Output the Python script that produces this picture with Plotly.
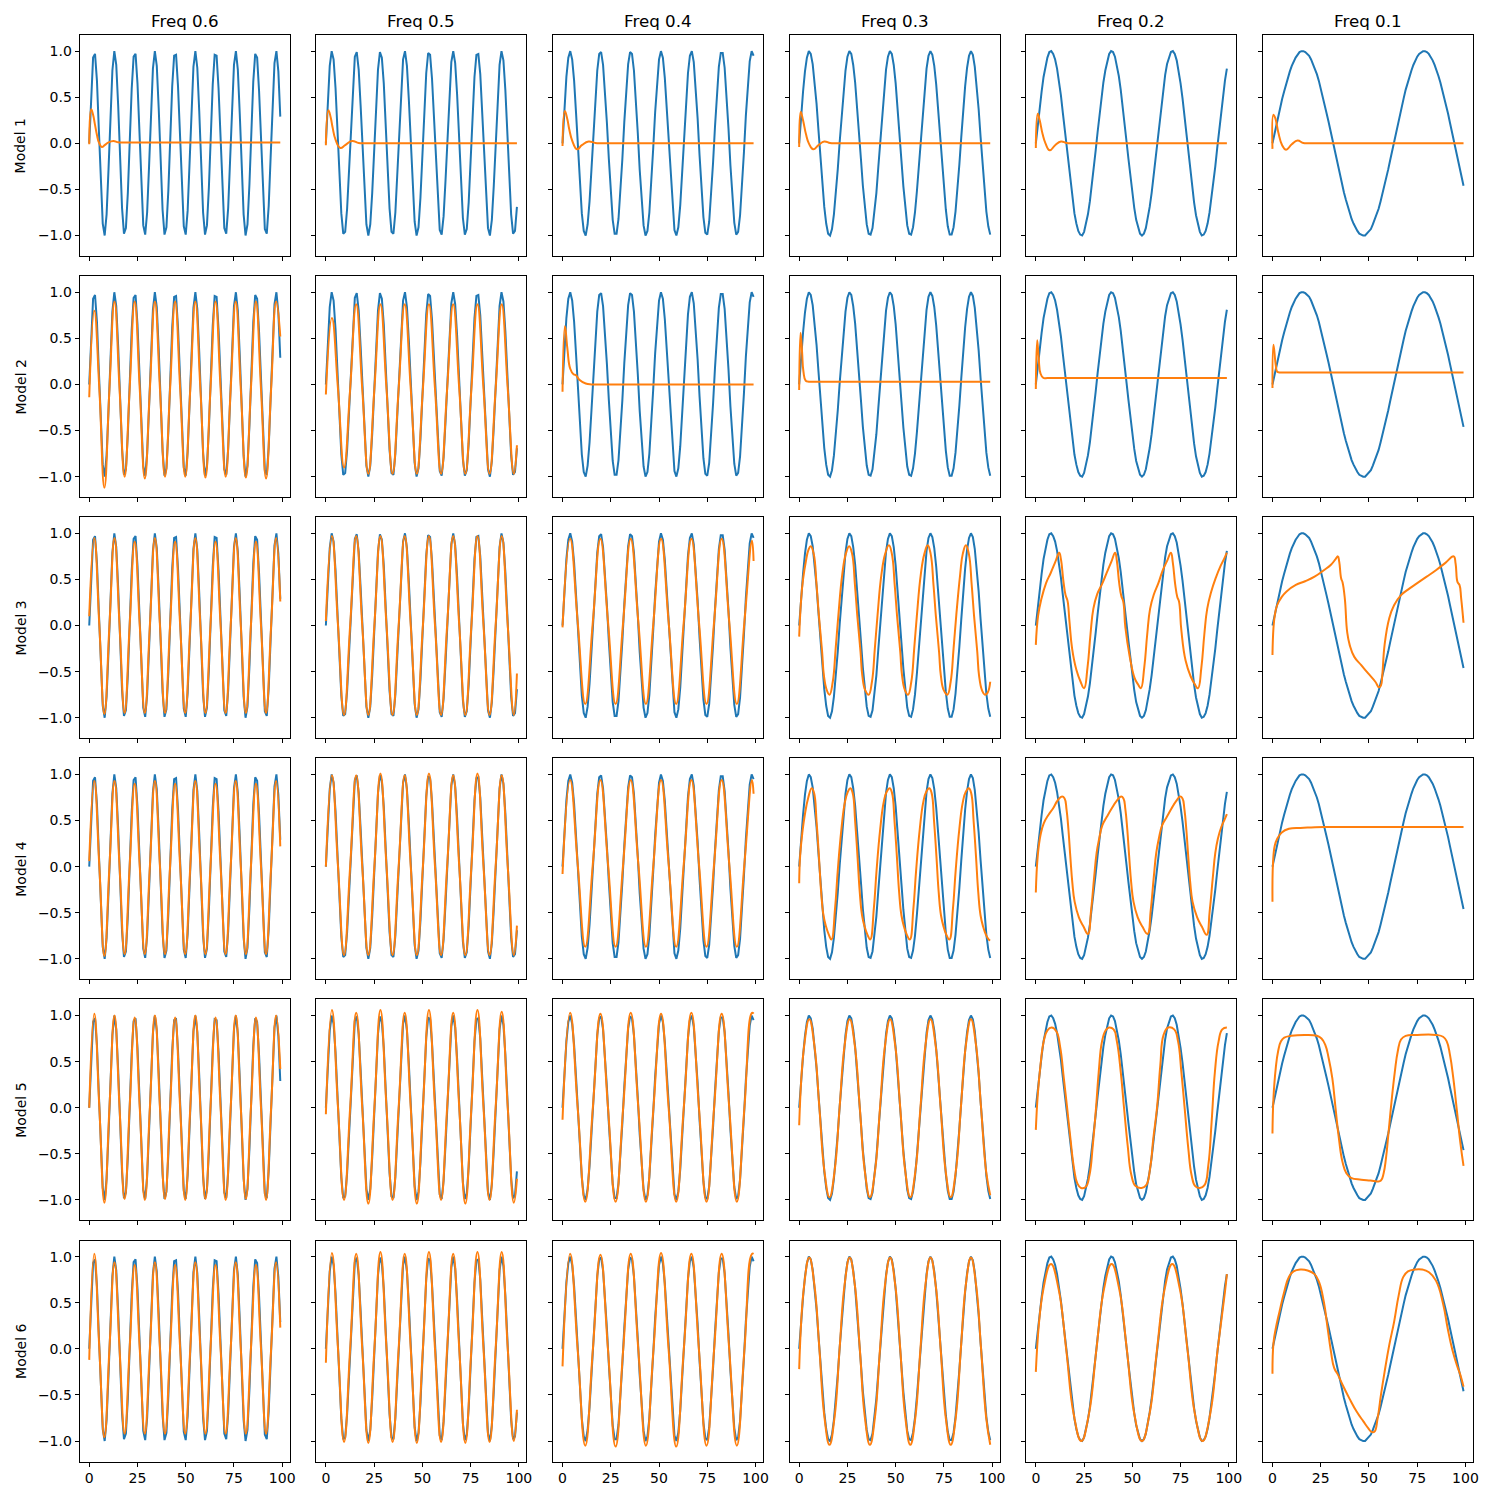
import plotly.graph_objects as go

# ---------------- data ----------------
FREQ_LABELS = ["Freq 0.6", "Freq 0.5", "Freq 0.4", "Freq 0.3", "Freq 0.2", "Freq 0.1"]
MODEL_LABELS = ["Model 1", "Model 2", "Model 3", "Model 4", "Model 5", "Model 6"]
X_TICKS = [0, 25, 50, 75, 100]
Y_TICKS = [-1.0, -0.5, 0.0, 0.5, 1.0]
Y_TICK_TEXT = ["\u22121.0", "\u22120.5", "0.0", "0.5", "1.0"]

T = list(range(100))

# input signals (blue), one per frequency column
SIN_06 = [0.00, 0.56, 0.93, 0.97, 0.68, 0.14, -0.44, -0.87, -1.00, -0.77,
          -0.28, 0.31, 0.79, 1.00, 0.85, 0.41, -0.17, -0.70, -0.98, -0.92,
          -0.54, 0.03, 0.59, 0.94, 0.97, 0.65, 0.11, -0.47, -0.89, -0.99,
          -0.75, -0.25, 0.34, 0.81, 1.00, 0.84, 0.38, -0.21, -0.72, -0.99,
          -0.91, -0.51, 0.07, 0.62, 0.95, 0.96, 0.62, 0.07, -0.50, -0.90,
          -0.99, -0.73, -0.21, 0.37, 0.83, 1.00, 0.82, 0.35, -0.24, -0.75,
          -0.99, -0.89, -0.48, 0.10, 0.64, 0.96, 0.95, 0.60, 0.04, -0.53,
          -0.92, -0.98, -0.70, -0.18, 0.41, 0.85, 1.00, 0.80, 0.32, -0.27,
          -0.77, -1.00, -0.88, -0.45, 0.13, 0.67, 0.97, 0.93, 0.57, 0.01,
          -0.56, -0.93, -0.98, -0.68, -0.15, 0.44, 0.87, 1.00, 0.78, 0.29]
SIN_05 = [0.00, 0.48, 0.84, 1.00, 0.91, 0.60, 0.14, -0.35, -0.76, -0.98,
          -0.96, -0.71, -0.28, 0.22, 0.66, 0.94, 0.99, 0.80, 0.41, -0.08,
          -0.54, -0.88, -1.00, -0.88, -0.54, -0.07, 0.42, 0.80, 0.99, 0.93,
          0.65, 0.21, -0.29, -0.71, -0.96, -0.98, -0.75, -0.34, 0.15, 0.61,
          0.91, 1.00, 0.84, 0.47, -0.01, -0.49, -0.85, -1.00, -0.91, -0.59,
          -0.13, 0.36, 0.76, 0.98, 0.96, 0.70, 0.27, -0.22, -0.66, -0.94,
          -0.99, -0.79, -0.40, 0.08, 0.55, 0.88, 1.00, 0.87, 0.53, 0.06,
          -0.43, -0.81, -0.99, -0.93, -0.64, -0.20, 0.30, 0.72, 0.96, 0.97,
          0.75, 0.33, -0.16, -0.61, -0.92, -1.00, -0.83, -0.46, 0.02, 0.49,
          0.85, 1.00, 0.90, 0.58, 0.12, -0.37, -0.77, -0.98, -0.95, -0.69]
SIN_04 = [0.00, 0.39, 0.72, 0.93, 1.00, 0.91, 0.68, 0.33, -0.06, -0.44,
          -0.76, -0.95, -1.00, -0.88, -0.63, -0.28, 0.12, 0.49, 0.79, 0.97,
          0.99, 0.85, 0.58, 0.22, -0.17, -0.54, -0.83, -0.98, -0.98, -0.82,
          -0.54, -0.17, 0.23, 0.59, 0.86, 0.99, 0.97, 0.79, 0.49, 0.11,
          -0.29, -0.64, -0.89, -1.00, -0.95, -0.75, -0.43, -0.05, 0.34, 0.68,
          0.91, 1.00, 0.93, 0.71, 0.38, -0.01, -0.40, -0.72, -0.94, -1.00,
          -0.91, -0.67, -0.33, 0.07, 0.45, 0.76, 0.95, 1.00, 0.88, 0.62,
          0.27, -0.13, -0.50, -0.80, -0.97, -0.99, -0.85, -0.58, -0.21, 0.18,
          0.55, 0.83, 0.98, 0.98, 0.82, 0.53, 0.16, -0.24, -0.60, -0.86,
          -0.99, -0.96, -0.78, -0.48, -0.10, 0.30, 0.64, 0.89, 1.00, 0.95]
SIN_03 = [0.00, 0.30, 0.56, 0.78, 0.93, 1.00, 0.97, 0.86, 0.68, 0.43,
          0.14, -0.16, -0.44, -0.69, -0.87, -0.98, -1.00, -0.93, -0.77, -0.55,
          -0.28, 0.02, 0.31, 0.58, 0.79, 0.94, 1.00, 0.97, 0.85, 0.66,
          0.41, 0.12, -0.17, -0.46, -0.70, -0.88, -0.98, -0.99, -0.92, -0.76,
          -0.54, -0.26, 0.03, 0.33, 0.59, 0.80, 0.94, 1.00, 0.97, 0.85,
          0.65, 0.40, 0.11, -0.19, -0.47, -0.71, -0.89, -0.98, -0.99, -0.91,
          -0.75, -0.52, -0.25, 0.05, 0.34, 0.61, 0.81, 0.95, 1.00, 0.96,
          0.84, 0.64, 0.38, 0.09, -0.21, -0.49, -0.72, -0.90, -0.99, -0.99,
          -0.91, -0.74, -0.51, -0.23, 0.07, 0.36, 0.62, 0.82, 0.95, 1.00,
          0.96, 0.83, 0.62, 0.37, 0.07, -0.22, -0.50, -0.74, -0.90, -0.99]
SIN_02 = [0.00, 0.20, 0.39, 0.56, 0.72, 0.84, 0.93, 0.99, 1.00, 0.97,
          0.91, 0.81, 0.68, 0.52, 0.33, 0.14, -0.06, -0.26, -0.44, -0.61,
          -0.76, -0.87, -0.95, -0.99, -1.00, -0.96, -0.88, -0.77, -0.63, -0.46,
          -0.28, -0.08, 0.12, 0.31, 0.49, 0.66, 0.79, 0.90, 0.97, 1.00,
          0.99, 0.94, 0.85, 0.73, 0.58, 0.41, 0.22, 0.02, -0.17, -0.37,
          -0.54, -0.70, -0.83, -0.92, -0.98, -1.00, -0.98, -0.92, -0.82, -0.69,
          -0.54, -0.36, -0.17, 0.03, 0.23, 0.42, 0.59, 0.74, 0.86, 0.94,
          0.99, 1.00, 0.97, 0.90, 0.79, 0.65, 0.49, 0.30, 0.11, -0.09,
          -0.29, -0.47, -0.64, -0.78, -0.89, -0.96, -1.00, -0.99, -0.95, -0.87,
          -0.75, -0.60, -0.43, -0.25, -0.05, 0.15, 0.34, 0.52, 0.68, 0.81]
SIN_01 = [0.00, 0.10, 0.20, 0.30, 0.39, 0.48, 0.56, 0.64, 0.72, 0.78,
          0.84, 0.89, 0.93, 0.96, 0.99, 1.00, 1.00, 0.99, 0.97, 0.95,
          0.91, 0.86, 0.81, 0.75, 0.68, 0.60, 0.52, 0.43, 0.33, 0.24,
          0.14, 0.04, -0.06, -0.16, -0.26, -0.35, -0.44, -0.53, -0.61, -0.69,
          -0.76, -0.82, -0.87, -0.92, -0.95, -0.98, -0.99, -1.00, -1.00, -0.98,
          -0.96, -0.93, -0.88, -0.83, -0.77, -0.71, -0.63, -0.55, -0.46, -0.37,
          -0.28, -0.18, -0.08, 0.02, 0.12, 0.22, 0.31, 0.40, 0.49, 0.58,
          0.66, 0.73, 0.79, 0.85, 0.90, 0.94, 0.97, 0.99, 1.00, 1.00,
          0.99, 0.97, 0.94, 0.90, 0.85, 0.80, 0.73, 0.66, 0.58, 0.50,
          0.41, 0.32, 0.22, 0.12, 0.02, -0.08, -0.17, -0.27, -0.37, -0.46]

# key times of the model outputs (orange)
Q06 = [0, 2.62, 5.24, 7.85, 10.47, 13.09, 15.71, 18.33, 20.94, 23.56, 26.18, 28.8,
       31.42, 34.03, 36.65, 39.27, 41.89, 44.51, 47.12, 49.74, 52.36, 54.98, 57.6,
       60.21, 62.83, 65.45, 68.07, 70.69, 73.3, 75.92, 78.54, 81.16, 83.78, 86.39,
       89.01, 91.63, 94.25, 96.87, 99]
Q05 = [0, 3.14, 6.28, 9.42, 12.57, 15.71, 18.85, 21.99, 25.13, 28.27, 31.42, 34.56,
       37.7, 40.84, 43.98, 47.12, 50.27, 53.41, 56.55, 59.69, 62.83, 65.97, 69.12,
       72.26, 75.4, 78.54, 81.68, 84.82, 87.96, 91.11, 94.25, 97.39, 99]
Q04 = [0, 3.93, 7.85, 11.78, 15.71, 19.63, 23.56, 27.49, 31.42, 35.34, 39.27, 43.2,
       47.12, 51.05, 54.98, 58.9, 62.83, 66.76, 70.69, 74.61, 78.54, 82.47, 86.39,
       90.32, 94.25, 98.17, 99]

# Model 1
M1_F06_X = [0, 1, 2, 3, 4, 5, 6.5, 8, 10, 12.5, 15, 18, 25, 40, 55, 70, 85, 99]
M1_F06_Y = [-0.01, 0.37, 0.31, 0.20, 0.09, 0.01, -0.04, -0.02, 0.01, 0.025, 0.012, 0.01, 0.01, 0.01, 0.01, 0.01, 0.01, 0.01]
M1_F05_X = [0, 1.3, 2.5, 3.5, 5, 7.5, 10, 13.5, 17, 20, 27, 40, 55, 70, 85, 99]
M1_F05_Y = [-0.02, 0.36, 0.28, 0.17, 0.04, -0.05, -0.02, 0.025, 0.003, 0.0, 0.0, 0.0, 0.0, 0.0, 0.0, 0.0]
M1_F04_X = [0, 1.2, 2.5, 3.5, 5, 7.5, 10, 13.5, 17, 20, 27, 40, 55, 70, 85, 99]
M1_F04_Y = [-0.03, 0.35, 0.26, 0.15, 0.03, -0.065, -0.02, 0.02, 0.003, 0.0, 0.0, 0.0, 0.0, 0.0, 0.0, 0.0]
M1_F03_X = [0, 0.8, 2, 3.5, 5, 7.3, 10, 13, 16, 19, 26, 40, 55, 70, 85, 99]
M1_F03_Y = [-0.04, 0.34, 0.25, 0.10, 0.0, -0.065, -0.02, 0.02, 0.003, 0.0, 0.0, 0.0, 0.0, 0.0, 0.0, 0.0]
M1_F02_X = [0, 1, 2, 3.5, 5, 7.2, 10, 13, 16, 19, 26, 40, 55, 70, 85, 99]
M1_F02_Y = [-0.05, 0.32, 0.25, 0.10, 0.0, -0.075, -0.02, 0.02, 0.003, 0.0, 0.0, 0.0, 0.0, 0.0, 0.0, 0.0]
M1_F01_X = [0, 0.5, 1.5, 3, 5, 7, 10, 13, 16, 19, 26, 40, 55, 70, 85, 99]
M1_F01_Y = [-0.06, 0.31, 0.27, 0.12, -0.02, -0.07, -0.01, 0.03, 0.003, 0.0, 0.0, 0.0, 0.0, 0.0, 0.0, 0.0]

# Model 2
M2_F06_Y = [-0.14,
            0.80, -0.05, -1.12, -0.05,
            0.90, -0.05, -1.00, -0.05,
            0.90, -0.05, -1.02, -0.05,
            0.90, -0.05, -1.00, -0.05,
            0.90, -0.05, -1.00, -0.05,
            0.90, -0.05, -1.01, -0.05,
            0.90, -0.05, -1.00, -0.05,
            0.90, -0.05, -1.01, -0.05,
            0.90, -0.05, -1.02, -0.05,
            0.90, 0.52]
M2_F05_Y = [-0.11,
            0.72, -0.05, -0.90, -0.05,
            0.87, -0.05, -0.97, -0.05,
            0.87, -0.05, -0.97, -0.05,
            0.87, -0.05, -0.97, -0.05,
            0.87, -0.05, -0.97, -0.05,
            0.87, -0.05, -0.97, -0.05,
            0.87, -0.05, -0.97, -0.05,
            0.87, -0.05, -0.97,
            -0.66]
M2_F04_X = [0, 1.25, 2.5, 4.0, 5.7, 7.0, 8.7, 12, 15, 20, 30, 45, 60, 75, 90, 99]
M2_F04_Y = [-0.08, 0.63, 0.39, 0.17, 0.11, 0.10, 0.05, 0.01, 0.0, 0.0, 0.0, 0.0, 0.0, 0.0, 0.0, 0.0]
M2_F03_X = [0, 0.7, 1.5, 2.2, 3.4, 5, 8, 15, 30, 45, 60, 75, 90, 99]
M2_F03_Y = [-0.06, 0.56, 0.35, 0.14, 0.04, 0.03, 0.03, 0.03, 0.03, 0.03, 0.03, 0.03, 0.03, 0.03]
M2_F02_X = [0, 0.7, 1.5, 2.4, 3.9, 6, 10, 20, 35, 50, 65, 80, 99]
M2_F02_Y = [-0.05, 0.48, 0.28, 0.12, 0.07, 0.07, 0.07, 0.07, 0.07, 0.07, 0.07, 0.07, 0.07]
M2_F01_X = [0, 0.5, 1.7, 2.4, 3.5, 6, 10, 20, 35, 50, 65, 80, 99]
M2_F01_Y = [-0.04, 0.43, 0.21, 0.14, 0.13, 0.13, 0.13, 0.13, 0.13, 0.13, 0.13, 0.13, 0.13]

# Model 3
M3_F06_Y = [0.10,
            0.95, 0.0, -0.96, 0.0,
            0.95, 0.0, -0.95, 0.0,
            0.91, 0.0, -0.95, 0.0,
            0.95, 0.0, -0.95, 0.0,
            0.91, 0.0, -0.95, 0.0,
            0.95, 0.0, -0.95, 0.0,
            0.91, 0.0, -0.95, 0.0,
            0.95, 0.0, -0.95, 0.0,
            0.91, 0.0, -0.95, 0.0,
            0.95, 0.26]
M3_F05_Y = [0.05,
            0.97, 0.0, -0.97, 0.0,
            0.97, 0.0, -0.97, 0.0,
            0.97, 0.0, -0.97, 0.0,
            0.97, 0.0, -0.97, 0.0,
            0.97, 0.0, -0.97, 0.0,
            0.97, 0.0, -0.97, 0.0,
            0.97, 0.0, -0.97, 0.0,
            0.97, 0.0, -0.97,
            -0.52]
M3_F04_Y = [-0.02,
            0.94, 0.04, -0.85, 0.04,
            0.94, 0.04, -0.85, 0.04,
            0.94, 0.04, -0.85, 0.04,
            0.94, 0.04, -0.85, 0.04,
            0.94, 0.04, -0.85, 0.04,
            0.94, 0.04, -0.85, 0.04,
            0.92, 0.70]
M3_F03_X = [0, 1, 2, 3.5, 4.8, 6.0,
            7.5, 9.0, 10.2, 11.9, 12.8, 14.3, 15.7,
            17.4, 18.9, 20.3, 22.3, 24.2, 25.9,
            27.4, 28.9, 30.1, 31.8, 32.7, 34.2, 36.0,
            37.7, 39.2, 40.6, 42.6, 44.6, 46.5,
            48.0, 49.5, 50.7, 52.4, 53.3, 54.8, 56.4,
            58.1, 59.6, 61.0, 63.0, 64.9, 66.6,
            68.1, 69.6, 70.8, 72.5, 73.4, 74.9, 76.8,
            78.5, 80.0, 81.4, 83.4, 84.8, 86.4,
            87.9, 89.4, 90.6, 92.3, 93.2, 94.7, 96.2, 97.6, 99]
M3_F03_Y = [-0.12, 0.28, 0.50, 0.70, 0.82, 0.86,
            0.78, 0.44, 0.11, -0.29, -0.54, -0.70, -0.75,
            -0.61, -0.25, 0.11, 0.55, 0.78, 0.86,
            0.78, 0.44, 0.11, -0.29, -0.54, -0.70, -0.75,
            -0.61, -0.25, 0.11, 0.55, 0.78, 0.87,
            0.78, 0.44, 0.11, -0.29, -0.54, -0.70, -0.75,
            -0.61, -0.25, 0.11, 0.55, 0.78, 0.87,
            0.78, 0.44, 0.11, -0.29, -0.54, -0.70, -0.75,
            -0.61, -0.25, 0.11, 0.55, 0.78, 0.87,
            0.78, 0.44, 0.11, -0.29, -0.54, -0.70, -0.75, -0.73, -0.61]
M3_F02_X = [0, 1.2, 2.9, 5.3, 7.7, 10.1, 12.1, 13.0, 14.3, 15.4, 16.4, 17.4, 18.8, 21.0, 23.2, 25.0,
            26.8, 28.3, 29.8, 31.8, 34.3, 36.7, 39.1, 41.1, 42.0, 43.2, 44.3, 45.3, 46.4, 48.6, 51.2, 53.0, 54.4,
            56.2, 57.7, 59.2, 61.2, 63.5, 65.8, 68.2, 70.0, 71.0, 72.2, 73.3, 74.2, 75.4, 77.6, 80.2, 82.2, 84.0,
            85.8, 87.3, 88.8, 90.8, 93.3, 95.8, 97.5, 99]
M3_F02_Y = [-0.21, 0.11, 0.29, 0.46, 0.57, 0.69, 0.79, 0.72, 0.48, 0.33, 0.27, 0.05, -0.25, -0.48, -0.61, -0.68,
            -0.45, -0.10, 0.18, 0.34, 0.45, 0.57, 0.69, 0.79, 0.70, 0.46, 0.32, 0.26, -0.02, -0.33, -0.57, -0.64, -0.68,
            -0.45, -0.10, 0.18, 0.34, 0.46, 0.60, 0.71, 0.79, 0.68, 0.45, 0.31, 0.26, -0.05, -0.38, -0.55, -0.63, -0.68,
            -0.45, -0.10, 0.18, 0.36, 0.52, 0.65, 0.72, 0.79]
M3_F01_X = [0, 0.5, 1.2, 2.4, 4.8, 7.3, 12.1, 16.9, 21.8, 26.6, 30.3, 32.7, 33.9, 34.6, 35.6, 36.3,
            37.5, 38.7, 40.0, 42.4, 46.0, 49.6, 53.3, 55.2, 56.2, 56.9, 58.1, 60.5, 63.0, 66.6, 70.2,
            75.0, 79.9, 84.7, 89.6, 93.9, 94.9, 95.9, 96.9, 97.8, 99]
M3_F01_Y = [-0.32, -0.03, 0.11, 0.22, 0.31, 0.37, 0.44, 0.48, 0.53, 0.60, 0.66, 0.72, 0.75, 0.69, 0.51, 0.47,
            0.29, -0.07, -0.21, -0.34, -0.43, -0.52, -0.61, -0.67, -0.65, -0.54, -0.21, 0.08, 0.22, 0.33, 0.39,
            0.46, 0.53, 0.60, 0.68, 0.75, 0.67, 0.47, 0.44, 0.29, 0.03]

# Model 4
M4_F06_Y = [0.06,
            0.93, 0.0, -0.97, 0.0,
            0.93, 0.0, -0.95, 0.0,
            0.90, 0.0, -0.95, 0.0,
            0.93, 0.0, -0.95, 0.0,
            0.90, 0.0, -0.95, 0.0,
            0.93, 0.0, -0.95, 0.0,
            0.90, 0.0, -0.95, 0.0,
            0.93, 0.0, -0.95, 0.0,
            0.90, 0.0, -0.95, 0.0,
            0.93, 0.22]
M4_F05_Y = [0.0,
            0.99, 0.0, -0.96, 0.0,
            0.99, 0.0, -0.96, 0.0,
            1.01, 0.0, -0.96, 0.0,
            0.99, 0.0, -0.96, 0.0,
            1.01, 0.0, -0.96, 0.0,
            0.99, 0.0, -0.96, 0.0,
            1.01, 0.0, -0.96, 0.0,
            0.99, 0.0, -0.96,
            -0.64]
M4_F04_Y = [-0.08,
            0.94, 0.03, -0.87, 0.03,
            0.94, 0.03, -0.87, 0.03,
            0.94, 0.03, -0.87, 0.03,
            0.94, 0.03, -0.87, 0.03,
            0.94, 0.03, -0.87, 0.03,
            0.94, 0.03, -0.87, 0.03,
            0.94, 0.79]
M4_F03_X = [0, 0.5, 1.7, 2.9, 4.6, 6.5,
            7.7, 9.0, 10.2, 11.4, 12.6, 13.9, 15.4, 16.7,
            18.6, 20.0, 21.9, 23.7, 25.2, 26.5,
            27.7, 29.0, 30.2, 31.4, 32.6, 33.9, 35.4, 36.8,
            38.7, 40.1, 42.0, 43.8, 45.3, 46.9,
            48.1, 49.4, 50.6, 51.8, 53.0, 54.3, 55.8, 57.3,
            59.2, 60.6, 62.5, 64.3, 65.8, 67.4,
            68.6, 69.9, 71.1, 72.3, 73.5, 74.8, 76.3, 77.8,
            79.7, 81.1, 83.0, 84.8, 86.3, 87.9,
            89.1, 90.4, 91.6, 92.8, 94.0, 95.3, 96.8, 98.2, 99]
M4_F03_Y = [-0.18, 0.12, 0.38, 0.56, 0.74, 0.85,
            0.80, 0.49, 0.12, -0.28, -0.53, -0.65, -0.74, -0.79,
            -0.45, -0.04, 0.41, 0.70, 0.81, 0.85,
            0.80, 0.49, 0.12, -0.28, -0.53, -0.65, -0.74, -0.79,
            -0.45, -0.04, 0.41, 0.70, 0.81, 0.85,
            0.80, 0.49, 0.12, -0.28, -0.53, -0.65, -0.74, -0.79,
            -0.45, -0.04, 0.41, 0.70, 0.81, 0.85,
            0.80, 0.49, 0.12, -0.28, -0.53, -0.65, -0.74, -0.79,
            -0.45, -0.04, 0.41, 0.70, 0.81, 0.85,
            0.80, 0.49, 0.12, -0.28, -0.53, -0.65, -0.74, -0.79, -0.80]
M4_F02_X = [0, 1.0, 2.4, 4.1, 6.5, 8.9, 11.4, 13.6, 14.9, 15.9, 16.9, 17.9, 18.9, 20.1, 22.3, 24.7, 27.0,
            28.6, 30.2, 31.5, 32.8, 34.5, 36.8, 39.3, 41.8, 44.2, 45.4, 46.4, 47.4, 48.4, 49.4, 50.6, 52.8, 55.2, 57.9,
            59.5, 61.1, 62.4, 63.7, 65.5, 67.9, 70.3, 72.7, 74.8, 76.0, 77.0, 78.0, 79.0, 80.0, 81.2, 83.6, 86.0, 88.5,
            90.1, 91.7, 93.0, 94.3, 96.1, 97.8, 99]
M4_F02_Y = [-0.28, 0.12, 0.34, 0.47, 0.56, 0.63, 0.72, 0.76, 0.74, 0.62, 0.40, 0.10, -0.17, -0.38, -0.55, -0.65, -0.73,
            -0.48, -0.12, 0.15, 0.30, 0.45, 0.54, 0.63, 0.71, 0.76, 0.74, 0.62, 0.40, 0.10, -0.17, -0.38, -0.55, -0.65, -0.73,
            -0.48, -0.12, 0.15, 0.30, 0.45, 0.54, 0.63, 0.71, 0.76, 0.74, 0.62, 0.40, 0.10, -0.17, -0.38, -0.55, -0.65, -0.74,
            -0.48, -0.12, 0.15, 0.30, 0.43, 0.51, 0.57]
M4_F01_X = [0, 0.3, 1.2, 2.4, 4.8, 8.5, 14.5, 20, 26.6, 35, 50, 65, 80, 99]
M4_F01_Y = [-0.38, 0.05, 0.23, 0.30, 0.37, 0.41, 0.42, 0.425, 0.43, 0.43, 0.43, 0.43, 0.43, 0.43]

# Model 5
M5_F06_Y = [0.0,
            1.02, 0.0, -1.03, 0.0,
            1.00, 0.0, -0.99, 0.0,
            0.98, 0.0, -1.00, 0.0,
            1.00, 0.0, -0.99, 0.0,
            0.98, 0.0, -1.00, 0.0,
            1.00, 0.0, -0.99, 0.0,
            0.98, 0.0, -1.00, 0.0,
            1.00, 0.0, -0.99, 0.0,
            0.98, 0.0, -1.00, 0.0,
            1.00, 0.42]
M5_F05_Y = [-0.07,
            1.06, 0.0, -1.00, 0.0,
            1.03, 0.0, -1.04, 0.0,
            1.06, 0.0, -1.00, 0.0,
            1.03, 0.0, -1.04, 0.0,
            1.06, 0.0, -1.00, 0.0,
            1.03, 0.0, -1.04, 0.0,
            1.06, 0.0, -1.00, 0.0,
            1.04, 0.0, -1.03,
            -0.77]
M5_F04_Y = [-0.13,
            1.03, 0.0, -1.02, 0.0,
            1.02, 0.0, -1.02, 0.0,
            1.03, 0.0, -1.02, 0.0,
            1.02, 0.0, -1.02, 0.0,
            1.03, 0.0, -1.02, 0.0,
            1.02, 0.0, -1.02, 0.0,
            1.03, 1.02]
M5_F03_Y = [-0.19,
            0.68, 0.96, 0.68, 0.0, -0.69, -0.97, -0.69, 0.0,
            0.68, 0.96, 0.68, 0.0, -0.69, -0.97, -0.69, 0.0,
            0.68, 0.96, 0.68, 0.0, -0.69, -0.97, -0.69, 0.0,
            0.68, 0.96, 0.68, 0.0, -0.69, -0.97, -0.69, 0.0,
            0.68, 0.96, 0.68, 0.0, -0.69,
            -0.95]
M5_F02_X = [0, 1.0, 2.4, 4.1, 6.0, 8.2, 10.6, 12.6, 14.5, 16.2, 17.9, 19.8, 21.5, 23.4, 25.8, 27.8, 29.5,
            31.2, 32.6, 34.3, 36.2, 37.9, 40.3, 42.0, 44.0, 45.7, 47.6, 49.5, 51.7, 54.8, 57.2, 59.2, 60.9,
            62.8, 64.5, 66.2, 68.6, 71.7, 73.7, 75.4, 77.1, 79.0, 80.7, 82.6, 85.0, 87.4, 89.4, 91.1,
            92.8, 94.7, 96.6, 99]
M5_F02_Y = [-0.24, 0.14, 0.46, 0.72, 0.84, 0.87, 0.83, 0.66, 0.32, 0.0, -0.33, -0.66, -0.82, -0.87, -0.86, -0.73, -0.41,
            0.0, 0.39, 0.72, 0.84, 0.87, 0.85, 0.72, 0.39, 0.0, -0.41, -0.73, -0.85, -0.87, -0.84, -0.66, -0.33,
            0.0, 0.46, 0.79, 0.87, 0.85, 0.72, 0.39, 0.0, -0.44, -0.73, -0.85, -0.87, -0.84, -0.62, -0.15,
            0.39, 0.72, 0.85, 0.87]
M5_F01_X = [0, 0.5, 1.7, 2.9, 4.4, 6.1, 9.7, 16.9, 23.0, 25.4, 27.4, 29.1, 31.0, 32.7, 34.4, 36.3,
            38.3, 40.7, 46.0, 50.8, 54.5, 56.2, 57.6, 58.8, 60.0, 61.7, 63.4, 64.9, 66.6, 69.0,
            75.0, 84.7, 88.4, 90.3, 92.0, 93.7, 95.6, 97.3, 99]
M5_F01_Y = [-0.28, 0.10, 0.43, 0.61, 0.72, 0.76, 0.78, 0.79, 0.78, 0.75, 0.68, 0.54, 0.32, -0.01, -0.33, -0.59,
            -0.71, -0.76, -0.78, -0.79, -0.80, -0.79, -0.71, -0.55, -0.30, 0.07, 0.39, 0.61, 0.74, 0.78,
            0.79, 0.79, 0.77, 0.72, 0.57, 0.32, -0.04, -0.37, -0.63]

# Model 6
M6_F06_Y = [-0.12,
            1.03, 0.0, -0.96, 0.0,
            0.94, 0.0, -0.92, 0.0,
            0.91, 0.0, -0.92, 0.0,
            0.94, 0.0, -0.92, 0.0,
            0.91, 0.0, -0.92, 0.0,
            0.94, 0.0, -0.92, 0.0,
            0.91, 0.0, -0.92, 0.0,
            0.94, 0.0, -0.92, 0.0,
            0.91, 0.0, -0.92, 0.0,
            0.94, 0.23]
M6_F05_Y = [-0.15,
            1.04, 0.0, -1.01, 0.0,
            1.03, 0.0, -1.02, 0.0,
            1.05, 0.0, -1.01, 0.0,
            1.03, 0.0, -1.02, 0.0,
            1.05, 0.0, -1.01, 0.0,
            1.03, 0.0, -1.02, 0.0,
            1.05, 0.0, -1.01, 0.0,
            1.05, 0.0, -1.00,
            -0.66]
M6_F04_Y = [-0.19,
            1.03, -0.01, -1.05, -0.01,
            1.02, -0.01, -1.06, -0.01,
            1.03, -0.01, -1.05, -0.01,
            1.04, -0.01, -1.06, -0.01,
            1.03, -0.01, -1.05, -0.01,
            1.03, -0.01, -1.05, -0.01,
            1.03, 1.03]
M6_F03_Y = [-0.22,
            0.70, 0.99, 0.70, 0.0, -0.74, -1.04, -0.74, 0.0,
            0.70, 0.99, 0.70, 0.0, -0.74, -1.04, -0.74, 0.0,
            0.70, 0.99, 0.70, 0.0, -0.74, -1.04, -0.74, 0.0,
            0.70, 0.99, 0.70, 0.0, -0.74, -1.04, -0.74, 0.0,
            0.70, 0.99, 0.70, 0.0, -0.74,
            -1.04]
M6_F02_Y = [-0.25,
            0.65, 0.92, 0.65, 0.0, -0.71, -1.00, -0.71, 0.0,
            0.65, 0.92, 0.65, 0.0, -0.71, -1.00, -0.71, 0.0,
            0.65, 0.92, 0.65, 0.0, -0.71, -1.00, -0.71, 0.0,
            0.65, 0.81]
M6_F01_X = [0, 0.5, 1.7, 3.6, 6.1, 8.5, 10.9, 14.5, 18.2, 21.8, 24.2, 26.6, 28.6, 30.3, 32.0, 33.9,
            36.3, 39.9, 43.6, 47.2, 49.6, 51.3, 52.8, 54.5, 56.2, 58.1, 60.5, 63.0, 65.4, 67.8,
            70.2, 73.9, 77.5, 81.1, 84.7, 88.4, 90.8, 93.2, 95.6, 97.3, 99]
M6_F01_Y = [-0.27, 0.06, 0.22, 0.40, 0.62, 0.78, 0.84, 0.86, 0.85, 0.81, 0.72, 0.51, 0.22, -0.03, -0.21, -0.28,
            -0.39, -0.54, -0.68, -0.79, -0.86, -0.90, -0.90, -0.75, -0.50, -0.25, 0.04, 0.29, 0.58, 0.78,
            0.84, 0.86, 0.86, 0.83, 0.74, 0.49, 0.22, -0.01, -0.18, -0.28, -0.41]

# ---------------- assemble ----------------
BLUE = [SIN_06, SIN_05, SIN_04, SIN_03, SIN_02, SIN_01]
ORANGE = [
    [(M1_F06_X, M1_F06_Y), (M1_F05_X, M1_F05_Y), (M1_F04_X, M1_F04_Y),
     (M1_F03_X, M1_F03_Y), (M1_F02_X, M1_F02_Y), (M1_F01_X, M1_F01_Y)],
    [(Q06, M2_F06_Y), (Q05, M2_F05_Y), (M2_F04_X, M2_F04_Y),
     (M2_F03_X, M2_F03_Y), (M2_F02_X, M2_F02_Y), (M2_F01_X, M2_F01_Y)],
    [(Q06, M3_F06_Y), (Q05, M3_F05_Y), (Q04, M3_F04_Y),
     (M3_F03_X, M3_F03_Y), (M3_F02_X, M3_F02_Y), (M3_F01_X, M3_F01_Y)],
    [(Q06, M4_F06_Y), (Q05, M4_F05_Y), (Q04, M4_F04_Y),
     (M4_F03_X, M4_F03_Y), (M4_F02_X, M4_F02_Y), (M4_F01_X, M4_F01_Y)],
    [(Q06, M5_F06_Y), (Q05, M5_F05_Y), (Q04, M5_F04_Y),
     (Q06, M5_F03_Y), (M5_F02_X, M5_F02_Y), (M5_F01_X, M5_F01_Y)],
    [(Q06, M6_F06_Y), (Q05, M6_F05_Y), (Q04, M6_F04_Y),
     (Q06, M6_F03_Y), (Q04, M6_F02_Y), (M6_F01_X, M6_F01_Y)],
]
for r in range(6):
    for c in range(6):
        ox, oy = ORANGE[r][c]
        if len(ox) != len(oy):
            raise ValueError(f"length mismatch model {r+1} col {c+1}: {len(ox)} vs {len(oy)}")

BLUE_C = "#1f77b4"
ORANGE_C = "#ff7f0e"
W = H = 1500
COL_LEFT0, COL_PITCH, COL_W = 80.0, 237.6, 211.0
ROW_TOP0, ROW_PITCH, ROW_H = 35.0, 241.1, 221.0
FONT = "DejaVu Sans"

fig = go.Figure()
layout = {}
annotations = []
for r in range(6):
    for c in range(6):
        idx = r * 6 + c + 1
        sfx = "" if idx == 1 else str(idx)
        xa, ya = "x" + sfx, "y" + sfx
        fig.add_trace(go.Scatter(x=T, y=BLUE[c], mode="lines",
                                 line=dict(color=BLUE_C, width=2),
                                 xaxis=xa, yaxis=ya, showlegend=False, hoverinfo="skip"))
        ox, oy = ORANGE[r][c]
        fig.add_trace(go.Scatter(x=ox, y=oy, mode="lines",
                                 line=dict(color=ORANGE_C, width=2, shape="spline", smoothing=1.3),
                                 xaxis=xa, yaxis=ya, showlegend=False, hoverinfo="skip"))
        left = COL_LEFT0 + c * COL_PITCH
        top = ROW_TOP0 + r * ROW_PITCH
        layout["xaxis" + sfx] = dict(
            domain=[left / W, (left + COL_W) / W], anchor=ya,
            range=[-4.95, 103.95], tickmode="array", tickvals=X_TICKS,
            ticktext=[str(v) for v in X_TICKS],
            showticklabels=(r == 5), ticks="outside", ticklen=4, tickwidth=1,
            tickcolor="black", showline=True, mirror=True, linecolor="black",
            linewidth=1, showgrid=False, zeroline=False,
            tickfont=dict(family=FONT, size=14, color="black"))
        layout["yaxis" + sfx] = dict(
            domain=[1 - (top + ROW_H) / H, 1 - top / H], anchor=xa,
            range=[-1.222, 1.175], tickmode="array", tickvals=Y_TICKS,
            ticktext=Y_TICK_TEXT,
            showticklabels=(c == 0), ticks="outside", ticklen=4, tickwidth=1,
            tickcolor="black", showline=True, mirror=True, linecolor="black",
            linewidth=1, showgrid=False, zeroline=False,
            tickfont=dict(family=FONT, size=14, color="black"))

for c in range(6):
    left = COL_LEFT0 + c * COL_PITCH
    annotations.append(dict(text=FREQ_LABELS[c], x=(left + COL_W / 2) / W, y=1 - 33.5 / H,
                            xref="paper", yref="paper", xanchor="center", yanchor="bottom",
                            showarrow=False, font=dict(family=FONT, size=16.7, color="black")))
for r in range(6):
    top = ROW_TOP0 + r * ROW_PITCH
    annotations.append(dict(text=MODEL_LABELS[r], x=21 / W, y=1 - (top + ROW_H / 2) / H,
                            xref="paper", yref="paper", xanchor="center", yanchor="middle",
                            textangle=-90, showarrow=False,
                            font=dict(family=FONT, size=14, color="black")))

fig.update_layout(**layout)
fig.update_layout(width=W, height=H, margin=dict(l=0, r=0, t=0, b=0),
                  paper_bgcolor="white", plot_bgcolor="white",
                  font=dict(family=FONT, size=14, color="black"),
                  annotations=annotations, showlegend=False)
fig.write_html("out.html")
